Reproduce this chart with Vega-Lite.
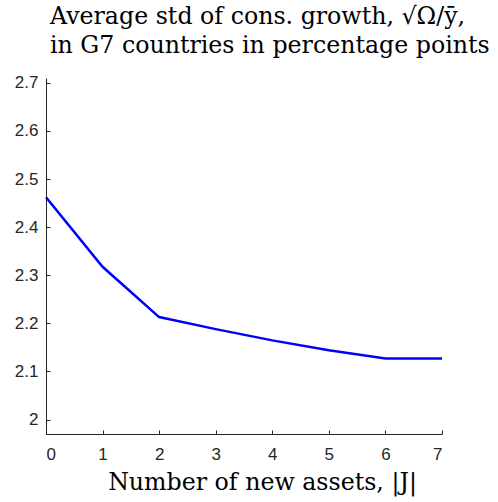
{
  "$schema": "https://vega.github.io/schema/vega-lite/v6.json",
  "width": 396,
  "height": 356,
  "autosize": "none",
  "padding": {"left": 46, "top": 78, "right": 56, "bottom": 68},
  "background": "white",
  "title": {
    "text": ["Average std of cons. growth, √Ω/ȳ,", "in G7 countries in percentage points"],
    "font": "DejaVu Serif",
    "fontSize": 23.7,
    "fontWeight": "normal",
    "color": "black",
    "anchor": "start",
    "frame": "group",
    "dx": 4,
    "offset": 16,
    "lineHeight": 29
  },
  "config": {
    "view": {"stroke": null},
    "axis": {
      "domainColor": "#262626",
      "tickColor": "#262626",
      "labelColor": "#262626",
      "labelFont": "Liberation Sans",
      "labelFontSize": 17,
      "grid": false,
      "tickSize": -4,
      "domainWidth": 1,
      "tickWidth": 1
    }
  },
  "data": {
    "values": [
      {"n": 0, "v": 2.462},
      {"n": 1, "v": 2.3176},
      {"n": 2, "v": 2.213},
      {"n": 3, "v": 2.188},
      {"n": 4, "v": 2.1646},
      {"n": 5, "v": 2.144},
      {"n": 6, "v": 2.127},
      {"n": 7, "v": 2.127}
    ]
  },
  "mark": {"type": "line", "color": "#0000FF", "strokeWidth": 2.5},
  "encoding": {
    "x": {
      "field": "n",
      "type": "quantitative",
      "scale": {"domain": [0, 7], "nice": false, "zero": false},
      "axis": {
        "values": [0, 1, 2, 3, 4, 5, 6, 7],
        "labelPadding": 16,
        "title": "Number of new assets, |J|",
        "titleFont": "DejaVu Serif",
        "titleFontSize": 23.7,
        "titleFontWeight": "normal",
        "titleColor": "black",
        "titleX": 216,
        "titleY": 55,
        "titleBaseline": "alphabetic",
        "titleAlign": "center"
      }
    },
    "y": {
      "field": "v",
      "type": "quantitative",
      "scale": {"domain": [1.97, 2.71], "nice": false, "zero": false},
      "axis": {
        "values": [2, 2.1, 2.2, 2.3, 2.4, 2.5, 2.6, 2.7],
        "format": ".1~f",
        "labelPadding": 12,
        "title": null
      }
    }
  }
}
